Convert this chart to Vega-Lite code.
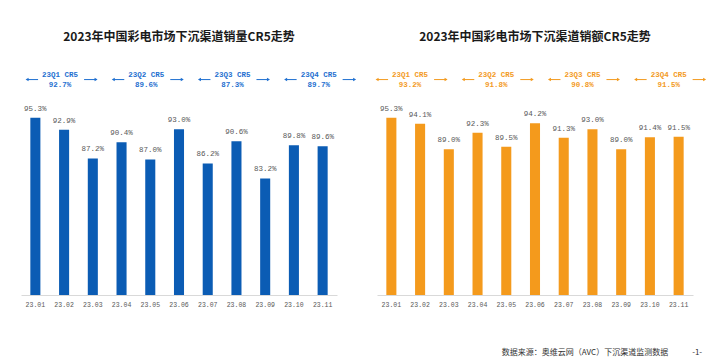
{
  "$schema": "https://vega.github.io/schema/vega-lite/v6.json",
  "background": "white",
  "padding": {"left": 21, "top": 31, "right": 0, "bottom": 0},
  "spacing": 18,
  "title": {"text": "数据来源：奥维云网（AVC）下沉渠道监测数据　　　-1-", "orient": "bottom", "anchor": "end", "fontSize": 8, "fontWeight": "normal", "color": "#333333", "font": "Noto Sans CJK SC", "offset": 41, "dx": -4},
  "config": {"view": {"stroke": null}},
  "datasets": {
    "months": [
      {"month": "23.01", "sales": 0.953, "revenue": 0.953},
      {"month": "23.02", "sales": 0.929, "revenue": 0.941},
      {"month": "23.03", "sales": 0.872, "revenue": 0.890},
      {"month": "23.04", "sales": 0.904, "revenue": 0.923},
      {"month": "23.05", "sales": 0.870, "revenue": 0.895},
      {"month": "23.06", "sales": 0.930, "revenue": 0.942},
      {"month": "23.07", "sales": 0.862, "revenue": 0.913},
      {"month": "23.08", "sales": 0.906, "revenue": 0.930},
      {"month": "23.09", "sales": 0.832, "revenue": 0.890},
      {"month": "23.10", "sales": 0.898, "revenue": 0.914},
      {"month": "23.11", "sales": 0.896, "revenue": 0.915}
    ],
    "quarters": [
      {"quarter": "23Q1", "label": "23Q1 CR5", "mid": "23.02", "sales": 0.927, "revenue": 0.932},
      {"quarter": "23Q2", "label": "23Q2 CR5", "mid": "23.05", "sales": 0.896, "revenue": 0.918},
      {"quarter": "23Q3", "label": "23Q3 CR5", "mid": "23.08", "sales": 0.873, "revenue": 0.908},
      {"quarter": "23Q4", "label": "23Q4 CR5", "mid": "23.11", "sales": 0.897, "revenue": 0.915}
    ]
  },
  "hconcat": [
    {
      "width": 316,
      "height": 231,
      "title": {"text": "2023年中国彩电市场下沉渠道销量CR5走势", "frame": "group", "fontSize": 12, "fontWeight": "bold", "color": "#1a1a1a", "font": "Noto Sans CJK SC", "offset": 20},
      "encoding": {
        "x": {"field": "month", "type": "ordinal", "scale": {"paddingInner": 0.65, "paddingOuter": 0.325},
              "axis": {"title": null, "labelAngle": 0, "labelFont": "Liberation Mono", "labelFontSize": 6.5, "labelColor": "#595959", "domainColor": "#d9d9d9", "ticks": false, "labelPadding": 6}}
      },
      "layer": [
        {
          "data": {"name": "months"},
          "mark": {"type": "bar", "color": "#0B5CB4"},
          "encoding": {"y": {"field": "sales", "type": "quantitative", "scale": {"domain": [0.6, 1.06], "nice": false, "zero": false}, "axis": null}, "y2": {"datum": 0.6}}
        },
        {
          "data": {"name": "months"},
          "mark": {"type": "text", "dy": -9, "font": "Liberation Mono", "fontSize": 7.5, "color": "#595959"},
          "encoding": {"y": {"field": "sales", "type": "quantitative"}, "text": {"field": "sales", "type": "quantitative", "format": ".1%"}}
        },
        {
          "data": {"name": "quarters"},
          "mark": {"type": "text", "font": "Liberation Mono", "fontSize": 7.5, "fontWeight": "bold", "color": "#1E6FD0", "xOffset": -4},
          "encoding": {"x": {"field": "mid", "type": "ordinal", "bandPosition": 0.5}, "y": {"datum": 1.038}, "text": {"field": "label"}}
        },
        {
          "data": {"name": "quarters"},
          "mark": {"type": "text", "font": "Liberation Mono", "fontSize": 7.5, "fontWeight": "bold", "color": "#1E6FD0", "xOffset": -4},
          "encoding": {"x": {"field": "mid", "type": "ordinal", "bandPosition": 0.5}, "y": {"datum": 1.018}, "text": {"field": "sales", "type": "quantitative", "format": ".1%"}}
        },
        {
          "data": {"name": "quarters"},
          "mark": {"type": "rule", "color": "#1E6FD0", "strokeWidth": 1, "xOffset": -37, "x2Offset": -26},
          "encoding": {"x": {"field": "mid", "type": "ordinal", "bandPosition": 0.5}, "x2": {"field": "mid", "bandPosition": 0.5}, "y": {"datum": 1.029}}
        },
        {
          "data": {"name": "quarters"},
          "mark": {"type": "rule", "color": "#1E6FD0", "strokeWidth": 1, "xOffset": 20, "x2Offset": 32},
          "encoding": {"x": {"field": "mid", "type": "ordinal", "bandPosition": 0.5}, "x2": {"field": "mid", "bandPosition": 0.5}, "y": {"datum": 1.029}}
        },
        {
          "data": {"name": "quarters"},
          "mark": {"type": "point", "shape": "triangle-left", "filled": true, "size": 12, "color": "#1E6FD0", "opacity": 1, "xOffset": -37},
          "encoding": {"x": {"field": "mid", "type": "ordinal", "bandPosition": 0.5}, "y": {"datum": 1.029}}
        },
        {
          "data": {"name": "quarters"},
          "mark": {"type": "point", "shape": "triangle-right", "filled": true, "size": 12, "color": "#1E6FD0", "opacity": 1, "xOffset": 32},
          "encoding": {"x": {"field": "mid", "type": "ordinal", "bandPosition": 0.5}, "y": {"datum": 1.029}}
        }
      ]
    },
    {
      "width": 316,
      "height": 231,
      "title": {"text": "2023年中国彩电市场下沉渠道销额CR5走势", "frame": "group", "fontSize": 12, "fontWeight": "bold", "color": "#1a1a1a", "font": "Noto Sans CJK SC", "offset": 20},
      "encoding": {
        "x": {"field": "month", "type": "ordinal", "scale": {"paddingInner": 0.65, "paddingOuter": 0.325},
              "axis": {"title": null, "labelAngle": 0, "labelFont": "Liberation Mono", "labelFontSize": 6.5, "labelColor": "#595959", "domainColor": "#d9d9d9", "ticks": false, "labelPadding": 6}}
      },
      "layer": [
        {
          "data": {"name": "months"},
          "mark": {"type": "bar", "color": "#F49A1C"},
          "encoding": {"y": {"field": "revenue", "type": "quantitative", "scale": {"domain": [0.6, 1.06], "nice": false, "zero": false}, "axis": null}, "y2": {"datum": 0.6}}
        },
        {
          "data": {"name": "months"},
          "mark": {"type": "text", "dy": -9, "font": "Liberation Mono", "fontSize": 7.5, "color": "#595959"},
          "encoding": {"y": {"field": "revenue", "type": "quantitative"}, "text": {"field": "revenue", "type": "quantitative", "format": ".1%"}}
        },
        {
          "data": {"name": "quarters"},
          "mark": {"type": "text", "font": "Liberation Mono", "fontSize": 7.5, "fontWeight": "bold", "color": "#F39A1E", "xOffset": -10},
          "encoding": {"x": {"field": "mid", "type": "ordinal", "bandPosition": 0.5}, "y": {"datum": 1.038}, "text": {"field": "label"}}
        },
        {
          "data": {"name": "quarters"},
          "mark": {"type": "text", "font": "Liberation Mono", "fontSize": 7.5, "fontWeight": "bold", "color": "#F39A1E", "xOffset": -10},
          "encoding": {"x": {"field": "mid", "type": "ordinal", "bandPosition": 0.5}, "y": {"datum": 1.018}, "text": {"field": "revenue", "type": "quantitative", "format": ".1%"}}
        },
        {
          "data": {"name": "quarters"},
          "mark": {"type": "rule", "color": "#F39A1E", "strokeWidth": 1, "xOffset": -43, "x2Offset": -32},
          "encoding": {"x": {"field": "mid", "type": "ordinal", "bandPosition": 0.5}, "x2": {"field": "mid", "bandPosition": 0.5}, "y": {"datum": 1.029}}
        },
        {
          "data": {"name": "quarters"},
          "mark": {"type": "rule", "color": "#F39A1E", "strokeWidth": 1, "xOffset": 14, "x2Offset": 26},
          "encoding": {"x": {"field": "mid", "type": "ordinal", "bandPosition": 0.5}, "x2": {"field": "mid", "bandPosition": 0.5}, "y": {"datum": 1.029}}
        },
        {
          "data": {"name": "quarters"},
          "mark": {"type": "point", "shape": "triangle-left", "filled": true, "size": 12, "color": "#F39A1E", "opacity": 1, "xOffset": -43},
          "encoding": {"x": {"field": "mid", "type": "ordinal", "bandPosition": 0.5}, "y": {"datum": 1.029}}
        },
        {
          "data": {"name": "quarters"},
          "mark": {"type": "point", "shape": "triangle-right", "filled": true, "size": 12, "color": "#F39A1E", "opacity": 1, "xOffset": 26},
          "encoding": {"x": {"field": "mid", "type": "ordinal", "bandPosition": 0.5}, "y": {"datum": 1.029}}
        }
      ]
    }
  ]
}
